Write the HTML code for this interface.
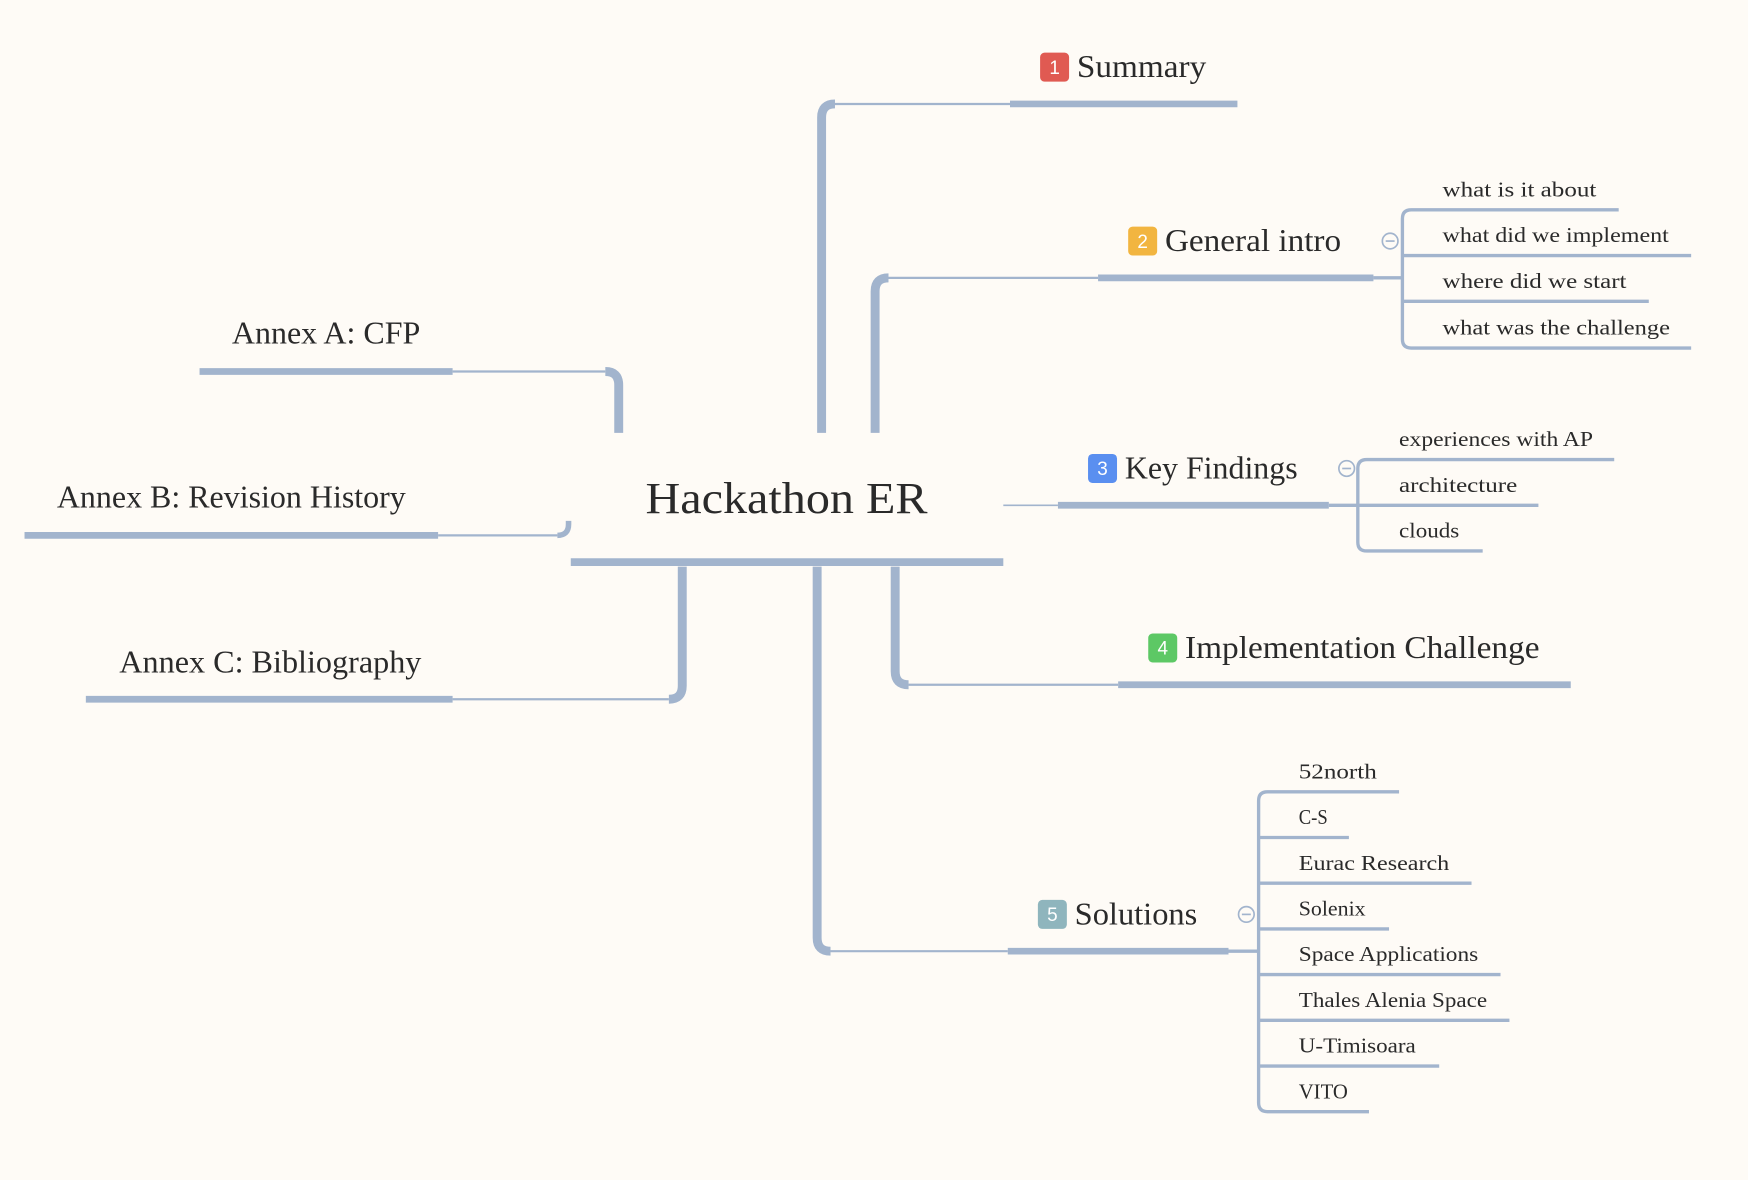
<!DOCTYPE html>
<html><head><meta charset="utf-8"><style>
html,body{margin:0;padding:0;background:#fefbf6;}
svg{display:block}
text{font-family:"Liberation Serif",serif;fill:#2a2a2a}
.s{font-size:19px}
.m{font-size:28px}
.b{font-family:"Liberation Sans",sans-serif;font-size:17px;fill:#fff}
</style></head><body>
<svg width="1748" height="1180" viewBox="0 0 1568 1058" xmlns="http://www.w3.org/2000/svg">
<rect width="1568" height="1058" fill="#fefbf6"/>
<g fill="none" stroke="#a2b4cd" stroke-linecap="butt">
<!-- central bar -->
<line x1="512" y1="504" x2="900" y2="504" stroke-width="7"/>
<!-- Summary -->
<path d="M737 388 V105 Q737 93 749 93" stroke-width="8"/>
<line x1="749" y1="93" x2="906" y2="93" stroke-width="2"/>
<line x1="906" y1="93" x2="1110" y2="93" stroke-width="6"/>
<!-- General intro -->
<path d="M785 388 V261 Q785 249 797 249" stroke-width="8"/>
<line x1="797" y1="249" x2="985" y2="249" stroke-width="2"/>
<line x1="985" y1="249" x2="1232" y2="249" stroke-width="6"/>
<line x1="1232" y1="249" x2="1258" y2="249" stroke-width="3"/>
<circle cx="1247" cy="216" r="7" stroke-width="1.5"/>
<path d="M1452 188 H1266 Q1258 188 1258 196 V304 Q1258 312 1266 312 H1517" stroke-width="3"/>
<line x1="1258" y1="229" x2="1517" y2="229" stroke-width="3"/>
<line x1="1258" y1="270" x2="1479" y2="270" stroke-width="3"/>
<!-- Key findings -->
<line x1="900" y1="453" x2="949" y2="453" stroke-width="1.5"/>
<line x1="949" y1="453" x2="1192" y2="453" stroke-width="6"/>
<line x1="1192" y1="453" x2="1218" y2="453" stroke-width="3"/>
<circle cx="1208" cy="420" r="7" stroke-width="1.5"/>
<path d="M1448 412 H1226 Q1218 412 1218 420 V486 Q1218 494 1226 494 H1330" stroke-width="3"/>
<line x1="1218" y1="453" x2="1380" y2="453" stroke-width="3"/>
<!-- Implementation -->
<path d="M803 508 V602 Q803 614 815 614" stroke-width="8"/>
<line x1="815" y1="614" x2="1003" y2="614" stroke-width="2"/>
<line x1="1003" y1="614" x2="1409" y2="614" stroke-width="6"/>
<!-- Solutions -->
<path d="M733 508 V841 Q733 853 745 853" stroke-width="8"/>
<line x1="745" y1="853" x2="904" y2="853" stroke-width="2"/>
<line x1="904" y1="853" x2="1102" y2="853" stroke-width="6"/>
<line x1="1102" y1="853" x2="1129" y2="853" stroke-width="3"/>
<circle cx="1118" cy="820" r="7" stroke-width="1.5"/>
<path d="M1255 710 H1137 Q1129 710 1129 718 V989 Q1129 997 1137 997 H1228" stroke-width="3"/>
<line x1="1129" y1="751" x2="1210" y2="751" stroke-width="3"/>
<line x1="1129" y1="792" x2="1320" y2="792" stroke-width="3"/>
<line x1="1129" y1="833" x2="1246" y2="833" stroke-width="3"/>
<line x1="1129" y1="874" x2="1346" y2="874" stroke-width="3"/>
<line x1="1129" y1="915" x2="1354" y2="915" stroke-width="3"/>
<line x1="1129" y1="956" x2="1291" y2="956" stroke-width="3"/>
<!-- Annex A -->
<line x1="179" y1="333" x2="406" y2="333" stroke-width="6"/>
<line x1="406" y1="333" x2="543" y2="333" stroke-width="2"/>
<path d="M543 333 Q555 333 555 345 V388" stroke-width="8"/>
<!-- Annex B -->
<line x1="22" y1="480" x2="393" y2="480" stroke-width="6"/>
<line x1="393" y1="480" x2="500" y2="480" stroke-width="2"/>
<path d="M500 480 Q510 480 510 470 V467" stroke-width="5"/>
<!-- Annex C -->
<line x1="77" y1="627" x2="406" y2="627" stroke-width="6"/>
<line x1="406" y1="627" x2="600" y2="627" stroke-width="2"/>
<path d="M600 627 Q612 627 612 615 V508" stroke-width="8"/>
</g>
<g stroke="#a2b4cd" stroke-width="1.5">
<line x1="1243" y1="216" x2="1251" y2="216"/>
<line x1="1204" y1="420" x2="1212" y2="420"/>
<line x1="1114" y1="820" x2="1122" y2="820"/>
</g>
<!-- badges -->
<rect x="933" y="47" width="26" height="26" rx="4" fill="#e05a52"/>
<text class="b" x="946" y="66" text-anchor="middle">1</text>
<rect x="1012" y="203" width="26" height="26" rx="4" fill="#f2b540"/>
<text class="b" x="1025" y="222" text-anchor="middle">2</text>
<rect x="976" y="407" width="26" height="26" rx="4" fill="#5a8ff0"/>
<text class="b" x="989" y="426" text-anchor="middle">3</text>
<rect x="1030" y="568" width="26" height="26" rx="4" fill="#5dc865"/>
<text class="b" x="1043" y="587" text-anchor="middle">4</text>
<rect x="931" y="807" width="26" height="26" rx="4" fill="#8fb5bd"/>
<text class="b" x="944" y="826" text-anchor="middle">5</text>
<!-- main labels -->
<text x="579" y="460" style="font-size:40px" textLength="253" lengthAdjust="spacingAndGlyphs">Hackathon ER</text>
<text class="m" x="966" y="69" textLength="116" lengthAdjust="spacingAndGlyphs">Summary</text>
<text class="m" x="1045" y="225" textLength="158" lengthAdjust="spacingAndGlyphs">General intro</text>
<text class="m" x="1009" y="429" textLength="155" lengthAdjust="spacingAndGlyphs">Key Findings</text>
<text class="m" x="1063" y="590" textLength="318" lengthAdjust="spacingAndGlyphs">Implementation Challenge</text>
<text class="m" x="964" y="829" textLength="110" lengthAdjust="spacingAndGlyphs">Solutions</text>
<text class="m" x="208" y="308" textLength="169" lengthAdjust="spacingAndGlyphs">Annex A: CFP</text>
<text class="m" x="51" y="455" textLength="313" lengthAdjust="spacingAndGlyphs">Annex B: Revision History</text>
<text class="m" x="107" y="603" textLength="271" lengthAdjust="spacingAndGlyphs">Annex C: Bibliography</text>
<!-- sub labels -->
<text class="s" x="1294" y="176" textLength="138" lengthAdjust="spacingAndGlyphs">what is it about</text>
<text class="s" x="1294" y="217" textLength="203" lengthAdjust="spacingAndGlyphs">what did we implement</text>
<text class="s" x="1294" y="258" textLength="165" lengthAdjust="spacingAndGlyphs">where did we start</text>
<text class="s" x="1294" y="300" textLength="204" lengthAdjust="spacingAndGlyphs">what was the challenge</text>
<text class="s" x="1255" y="400" textLength="174" lengthAdjust="spacingAndGlyphs">experiences with AP</text>
<text class="s" x="1255" y="441" textLength="106" lengthAdjust="spacingAndGlyphs">architecture</text>
<text class="s" x="1255" y="482" textLength="54" lengthAdjust="spacingAndGlyphs">clouds</text>
<text class="s" x="1165" y="698" textLength="70" lengthAdjust="spacingAndGlyphs">52north</text>
<text class="s" x="1165" y="739" textLength="26" lengthAdjust="spacingAndGlyphs">C-S</text>
<text class="s" x="1165" y="780" textLength="135" lengthAdjust="spacingAndGlyphs">Eurac Research</text>
<text class="s" x="1165" y="821" textLength="60" lengthAdjust="spacingAndGlyphs">Solenix</text>
<text class="s" x="1165" y="862" textLength="161" lengthAdjust="spacingAndGlyphs">Space Applications</text>
<text class="s" x="1165" y="903" textLength="169" lengthAdjust="spacingAndGlyphs">Thales Alenia Space</text>
<text class="s" x="1165" y="944" textLength="105" lengthAdjust="spacingAndGlyphs">U-Timisoara</text>
<text class="s" x="1165" y="985" textLength="44" lengthAdjust="spacingAndGlyphs">VITO</text>
</svg>
</body></html>
